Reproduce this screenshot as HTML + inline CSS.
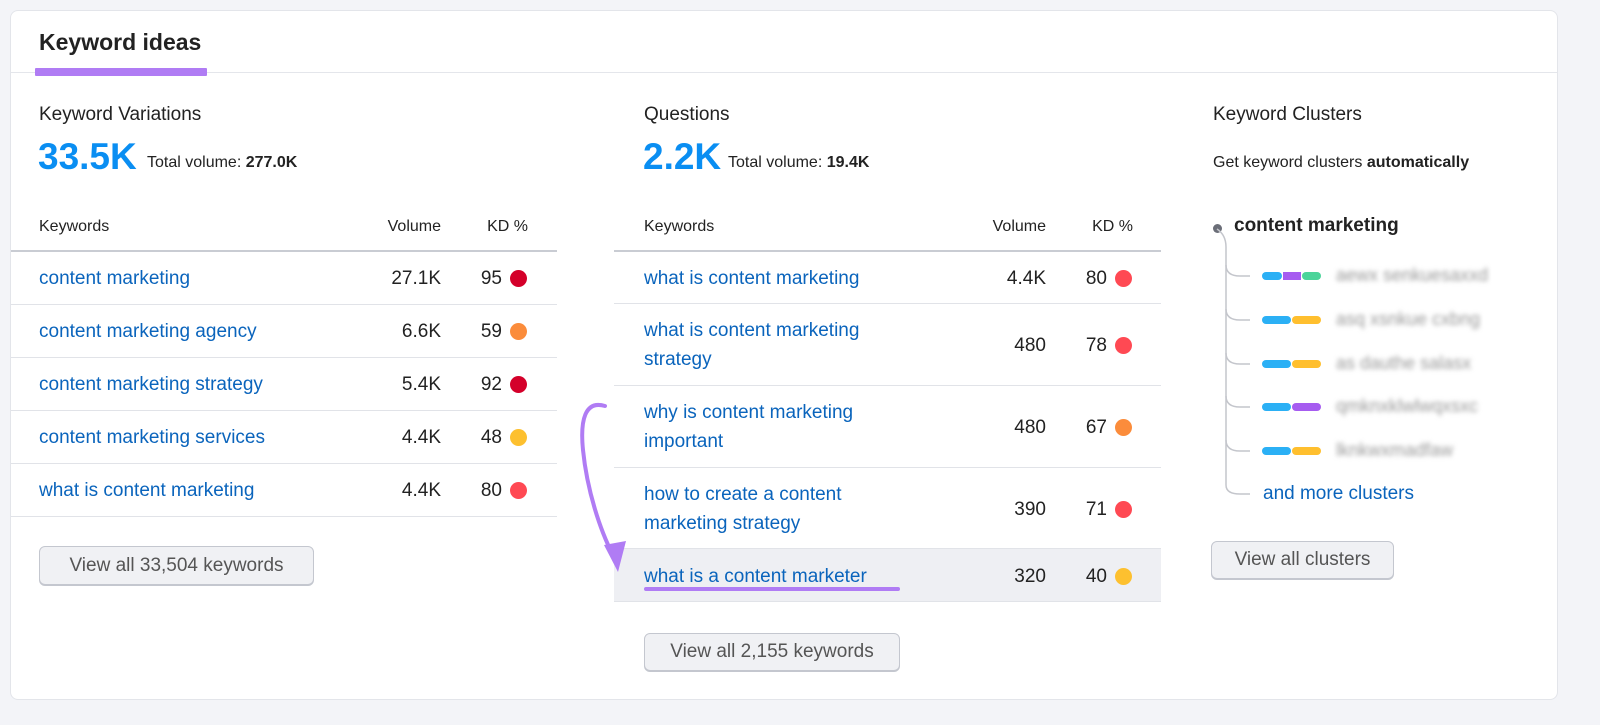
<!DOCTYPE html>
<html><head><style>
*{margin:0;padding:0;box-sizing:border-box}
body{width:1600px;height:725px;background:#f3f4f8;font-family:"Liberation Sans",sans-serif;position:relative;overflow:hidden;color:#222}
.card{position:absolute;left:10px;top:10px;width:1548px;height:690px;background:#fff;border-radius:8px;border:1px solid #e3e5ea}
.a{position:absolute;white-space:nowrap}
.lnk{color:#0a64bc;font-size:19px;line-height:29px}
.hdr{font-size:16px;color:#222}
.num{font-size:19px;color:#222;text-align:right;line-height:29px}
.dot{position:absolute;width:17px;height:17px;border-radius:50%}
.hl{position:absolute;height:1px;background:#e1e3e8}
.btn{position:absolute;border:1px solid #c4c7cf;border-radius:6px;background:#f0f1f4;font-size:19px;color:#555;text-align:center;box-shadow:0 1px 0 #c4c7cf}
.bar{position:absolute;height:8px;border-radius:4px}
.blur{position:absolute;color:#999;font-size:18px;filter:blur(2.5px)}
</style></head><body>
<div class="card"></div>
<div class="a" style="left:39px;top:29px;font-size:23px;font-weight:bold;color:#222">Keyword ideas</div>
<div class="hl" style="left:11px;top:72px;width:1546px;background:#e4e6eb"></div>
<div class="a" style="left:35px;top:68px;width:172px;height:8px;background:#b07cf4;border-radius:1px"></div>

<!-- Left -->
<div class="a" style="left:39px;top:104px;font-size:19px">Keyword Variations</div>
<div class="a" style="left:38px;top:136px;font-size:37px;font-weight:bold;color:#0a8ef2">33.5K</div>
<div class="a" style="left:147px;top:154px;font-size:16px">Total volume: <b>277.0K</b></div>
<div class="a hdr" style="left:39px;top:218px">Keywords</div>
<div class="a hdr" style="left:341px;top:218px;width:100px;text-align:right">Volume</div>
<div class="a hdr" style="left:470px;top:218px;width:58px;text-align:right">KD %</div>
<div class="hl" style="left:11px;top:250px;width:546px;height:2px;background:#c9ccd3"></div>

<!-- Middle -->
<div class="a" style="left:644px;top:104px;font-size:19px">Questions</div>
<div class="a" style="left:643px;top:136px;font-size:37px;font-weight:bold;color:#0a8ef2">2.2K</div>
<div class="a" style="left:728px;top:154px;font-size:16px">Total volume: <b>19.4K</b></div>
<div class="a hdr" style="left:644px;top:218px">Keywords</div>
<div class="a hdr" style="left:946px;top:218px;width:100px;text-align:right">Volume</div>
<div class="a hdr" style="left:1075px;top:218px;width:58px;text-align:right">KD %</div>
<div class="hl" style="left:614px;top:250px;width:547px;height:2px;background:#c9ccd3"></div>
<div class="a" style="left:614px;top:549px;width:547px;height:53px;background:#eeeff3"></div>

<div id="rows"></div>

<!-- Right -->
<div class="a" style="left:1213px;top:104px;font-size:19px">Keyword Clusters</div>
<div class="a" style="left:1213px;top:154px;font-size:16px">Get keyword clusters <b>automatically</b></div>
<div class="dot" style="left:1213px;top:224px;width:9px;height:9px;background:#6b6e78"></div>
<div class="a" style="left:1234px;top:215px;font-size:19px;font-weight:bold">content marketing</div>
<svg class="a" style="left:1200px;top:225px" width="70" height="280">
<g fill="none" stroke="#c4c6cc" stroke-width="1.5">
<path d="M17 4 Q26 10 26 22 V260 Q26 269 40 269 H50"/>
<path d="M26 40 Q26 51 40 51 H50"/><path d="M26 84 Q26 95 40 95 H50"/><path d="M26 128 Q26 139 40 139 H50"/><path d="M26 171 Q26 182 40 182 H50"/><path d="M26 215 Q26 226 40 226 H50"/>
</g></svg>
<div class="bar" style="left:1262px;top:272px;width:20px;background:#2bb0f5"></div><div class="bar" style="left:1283px;top:272px;width:18px;background:#a65cf0;border-radius:0"></div><div class="bar" style="left:1302px;top:272px;width:19px;background:#4bd49a"></div>
<div class="bar" style="left:1262px;top:316px;width:29px;background:#2bb0f5"></div><div class="bar" style="left:1292px;top:316px;width:29px;background:#ffbf2e"></div>
<div class="bar" style="left:1262px;top:360px;width:29px;background:#2bb0f5"></div><div class="bar" style="left:1292px;top:360px;width:29px;background:#ffbf2e"></div>
<div class="bar" style="left:1262px;top:403px;width:29px;background:#2bb0f5"></div><div class="bar" style="left:1292px;top:403px;width:29px;background:#a65cf0"></div>
<div class="bar" style="left:1262px;top:447px;width:29px;background:#2bb0f5"></div><div class="bar" style="left:1292px;top:447px;width:29px;background:#ffbf2e"></div>
<div class="blur a" style="left:1336px;top:265px">aewx senkuesaxxd</div>
<div class="blur a" style="left:1336px;top:309px">asq xsnkue cxbng</div>
<div class="blur a" style="left:1336px;top:353px">as dauthe salasx</div>
<div class="blur a" style="left:1336px;top:396px">qmknxklwlwqxsxc</div>
<div class="blur a" style="left:1336px;top:440px">lknkwxmadfaw</div>
<div class="a lnk" style="left:1263px;top:479px">and more clusters</div>

<div class="btn" style="left:39px;top:546px;width:275px;height:39px;line-height:37px">View all 33,504 keywords</div>
<div class="btn" style="left:644px;top:633px;width:256px;height:38px;line-height:36px">View all 2,155 keywords</div>
<div class="btn" style="left:1211px;top:541px;width:183px;height:38px;line-height:36px">View all clusters</div>

<svg class="a" style="left:0;top:0" width="1600" height="725">
<path d="M605 406 C585 400 580 420 583 450 C587 490 600 530 613 555" fill="none" stroke="#b07cf4" stroke-width="4" stroke-linecap="round"/>
<path d="M604 545 L618 572 L626 541 Z" fill="#b07cf4"/>
<rect x="644" y="587" width="256" height="4" rx="2" fill="#b07cf4"/>
</svg>

<script>
var L=[["content marketing","27.1K","95","#d4002a"],["content marketing agency","6.6K","59","#fb8c3b"],["content marketing strategy","5.4K","92","#d4002a"],["content marketing services","4.4K","48","#fdc02f"],["what is content marketing","4.4K","80","#ff4953"]];
var h="";
L.forEach(function(r,i){var t=252+i*53,c=t+26;
h+='<div class="a lnk" style="left:39px;top:'+(c-14)+'px">'+r[0]+'</div><div class="a num" style="left:341px;top:'+(c-14)+'px;width:100px">'+r[1]+'</div><div class="a num" style="left:460px;top:'+(c-14)+'px;width:42px">'+r[2]+'</div><div class="dot" style="left:510px;top:'+(c-8)+'px;background:'+r[3]+'"></div><div class="hl" style="left:11px;top:'+(t+52)+'px;width:546px"></div>';});
var M=[["what is content marketing","","4.4K","80","#ff4953",252,304],["what is content marketing","strategy","480","78","#ff4953",304,386],["why is content marketing","important","480","67","#fb8c3b",386,468],["how to create a content","marketing strategy","390","71","#ff4953",468,549],["what is a content marketer","","320","40","#fdc02f",549,602]];
M.forEach(function(r){var t=r[5],b=r[6],c=Math.round((t+b)/2);
var txt=r[1]?r[0]+'<br>'+r[1]:r[0];
var top=r[1]?c-29:c-14;
h+='<div class="a lnk" style="left:644px;top:'+top+'px">'+txt+'</div><div class="a num" style="left:946px;top:'+(c-14)+'px;width:100px">'+r[2]+'</div><div class="a num" style="left:1065px;top:'+(c-14)+'px;width:42px">'+r[3]+'</div><div class="dot" style="left:1115px;top:'+(c-8)+'px;background:'+r[4]+'"></div><div class="hl" style="left:614px;top:'+(b-1)+'px;width:547px"></div>';});
document.getElementById("rows").innerHTML=h;
</script>
</body></html>
